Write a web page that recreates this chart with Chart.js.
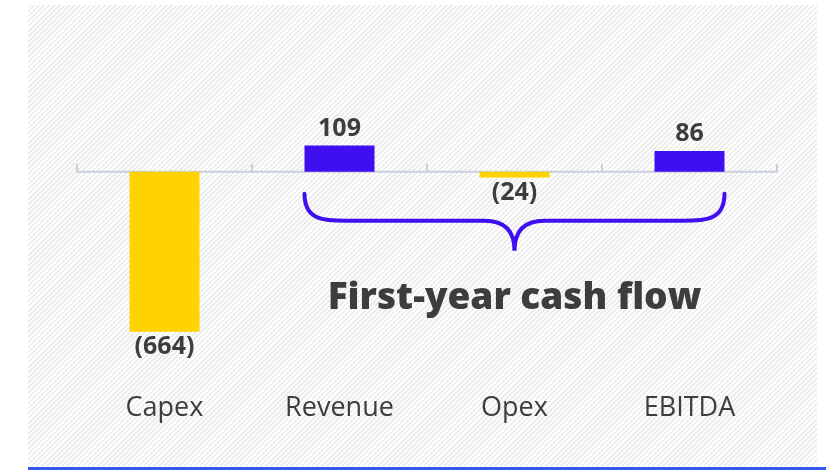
<!DOCTYPE html>
<html>
<head>
<meta charset="utf-8">
<script src="https://cdn.jsdelivr.net/npm/chart.js@4.4.1/dist/chart.umd.min.js"></script>
<style>
    body { margin: 0; background: #fff; }
    #wrap { position: relative; width: 826px; height: 471px; }
    #hatch {
        position: absolute; left: 28px; top: 5px; width: 789px; height: 461px;
        background: repeating-linear-gradient(135deg, #ececec 0 1.8px, #fff 1.8px 3.6px);
    }
    #baseLine { position: absolute; left: 28px; top: 467px; width: 798px; height: 3px; background: #3558ee; }
    #chart { position: absolute; left: 0; top: 0; }
</style>
</head>
<body>
<div id="wrap">
    <div id="hatch"></div>
    <div id="baseLine"></div>
    <canvas id="chart" width="826" height="471"></canvas>
</div>
<script>
var categories = ["Capex", "Revenue", "Opex", "EBITDA"];
var cashValues = [-664, 109, -24, 86];
var barColors = ["#FFD300", "#3F0FF0", "#FFD300", "#3F0FF0"];
var braceTitle = "First-year cash flow";

var labelColor = "#3d3d3d";

// zero line with tick marks at the category edges
var zeroAxis = {
    id: 'zeroAxis',
    beforeDatasetsDraw: function (chart) {
        var ctx = chart.ctx;
        var xs = chart.scales.x, ys = chart.scales.y;
        var y0 = ys.getPixelForValue(0);
        var step = (xs.right - xs.left) / categories.length;
        ctx.save();
        ctx.strokeStyle = "#c8d0dc";
        ctx.lineWidth = 2;
        ctx.beginPath();
        ctx.moveTo(xs.left, y0);
        ctx.lineTo(xs.right, y0);
        for (var i = 0; i <= categories.length; i++) {
            var x = xs.left + i * step;
            ctx.moveTo(x, y0);
            ctx.lineTo(x, y0 - 8);
        }
        ctx.stroke();
        ctx.restore();
    }
};

var valueLabels = {
    id: 'valueLabels',
    afterDatasetsDraw: function (chart) {
        var ctx = chart.ctx;
        var bars = chart.getDatasetMeta(0).data;
        var ys = chart.scales.y;
        var y0 = ys.getPixelForValue(0);
        ctx.save();
        ctx.font = "bold 25px 'Open Sans'";
        ctx.fillStyle = labelColor;
        ctx.textAlign = "center";
        ctx.textBaseline = "middle";
        bars.forEach(function (bar, i) {
            var v = cashValues[i];
            if (v >= 0) {
                ctx.fillText(String(v), bar.x, bar.y - 17);
            } else {
                ctx.fillText("(" + Math.abs(v) + ")", bar.x, bar.y + 15);
            }
        });

        // brace from Revenue bar to EBITDA bar
        var b1 = bars[1], b3 = bars[3];
        var L = b1.x - b1.width / 2, R = b3.x + b3.width / 2, C = (L + R) / 2;
        var ya = y0 + 22, yb = y0 + 49, yt = y0 + 79;
        ctx.strokeStyle = "#3F0FF0";
        ctx.lineWidth = 4;
        ctx.lineCap = "round";
        ctx.beginPath();
        ctx.moveTo(L, ya);
        ctx.bezierCurveTo(L, yb, L + 20, yb, L + 42, yb);
        ctx.lineTo(C - 30, yb);
        ctx.bezierCurveTo(C - 10, yb, C, yb + 10, C, yt);
        ctx.bezierCurveTo(C, yb + 10, C + 10, yb, C + 30, yb);
        ctx.lineTo(R - 42, yb);
        ctx.bezierCurveTo(R - 20, yb, R, yb, R, ya);
        ctx.stroke();

        ctx.font = "800 37px 'Open Sans'";
        ctx.fillText(braceTitle, C, y0 + 127);
        ctx.restore();
    }
};

new Chart(document.getElementById('chart'), {
    type: 'bar',
    data: {
        labels: categories,
        datasets: [{
            data: cashValues,
            backgroundColor: barColors,
            borderWidth: 0,
            categoryPercentage: 1,
            barPercentage: 0.4
        }]
    },
    options: {
        responsive: false,
        animation: false,
        events: [],
        layout: { padding: { left: 77, right: 49, top: 27, bottom: 26 } },
        plugins: { legend: { display: false }, tooltip: { enabled: false } },
        scales: {
            x: {
                grid: { display: false },
                border: { display: false },
                ticks: {
                    color: "#3d3d3d",
                    padding: 20,
                    font: { family: "'Open Sans'", size: 27 }
                }
            },
            y: {
                display: false,
                min: -800,
                max: 600
            }
        }
    },
    plugins: [zeroAxis, valueLabels]
});
</script>
</body>
</html>
